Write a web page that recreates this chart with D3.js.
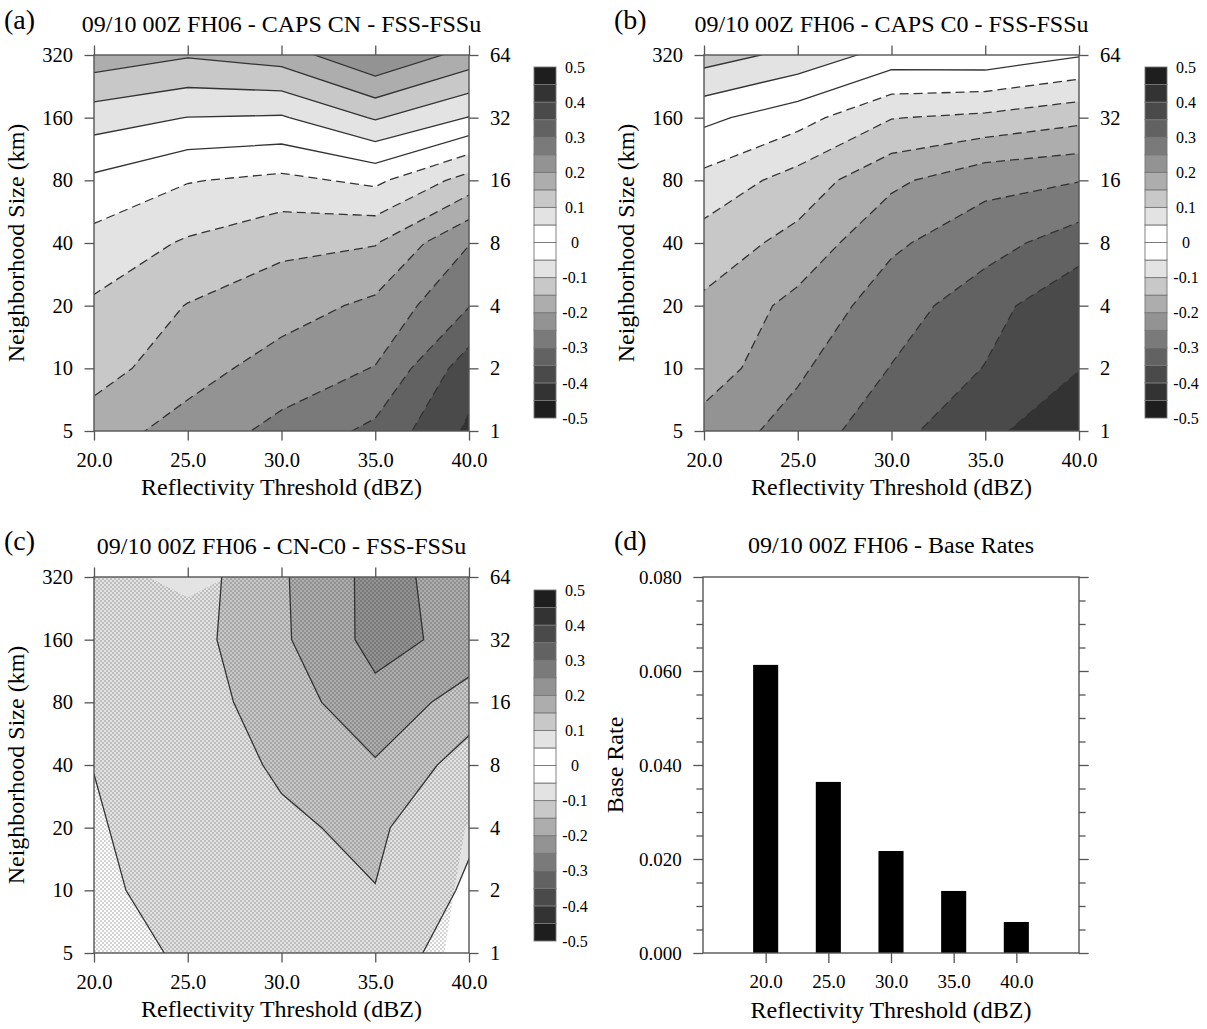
<!DOCTYPE html>
<html>
<head>
<meta charset="utf-8">
<script src="https://cdn.jsdelivr.net/npm/d3@7"></script>
<style>
  body { margin: 0; background: #fff; }
  svg { display: block; font-family: "Liberation Serif", "Times New Roman", serif; }
</style>
</head>
<body>
<svg id="fig" width="1207" height="1029"></svg>
<script>
// ---- data -------------------------------------------------------------
const thresholds = [20, 25, 30, 35, 40];          // reflectivity threshold (dBZ)
const sizesKm = [5, 10, 20, 40, 80, 160, 320];   // neighborhood size (km)
const gridPts = [1, 2, 4, 8, 16, 32, 64];        // neighborhood size (grid points)

// FSS - FSSu; each row is one neighborhood size (5 km first), columns are thresholds
const fssCN = [
  [-0.175, -0.221, -0.264, -0.312, -0.409],
  [-0.130, -0.179, -0.222, -0.252, -0.377],
  [-0.107, -0.152, -0.178, -0.211, -0.298],
  [-0.068, -0.106, -0.138, -0.147, -0.248],
  [-0.010, -0.047, -0.062, -0.039, -0.120],
  [ 0.073,  0.049,  0.045,  0.105,  0.048],
  [ 0.180,  0.155,  0.174,  0.248,  0.181]
];
const fssC0 = [
  [-0.222, -0.269, -0.335, -0.385, -0.445],
  [-0.172, -0.242, -0.302, -0.352, -0.398],
  [-0.159, -0.215, -0.275, -0.330, -0.391],
  [-0.122, -0.166, -0.242, -0.280, -0.326],
  [-0.065, -0.121, -0.189, -0.235, -0.248],
  [ 0.012, -0.030, -0.098, -0.111, -0.136],
  [ 0.123,  0.085,  0.030,  0.035,  0.004]
];
const fssDiff = [
  [0.020, 0.060, 0.075, 0.085, 0.016],
  [0.035, 0.079, 0.085, 0.099, 0.042],
  [0.044, 0.082, 0.094, 0.108, 0.058],
  [0.051, 0.080, 0.105, 0.145, 0.077],
  [0.060, 0.078, 0.123, 0.186, 0.126],
  [0.065, 0.081, 0.142, 0.216, 0.185],
  [0.070, 0.075, 0.144, 0.216, 0.179]
];
// significance score of the CN-C0 difference (stippled where >= 0.5)
const signifDiff = [
  [1, 1, 1, 1, 0.324],
  [1, 1, 1, 1, 0.405],
  [1, 1, 1, 1, 0.480],
  [1, 1, 1, 1, 1],
  [1, 1, 1, 1, 1],
  [1, 1.24, 1, 1, 1],
  [1, 0.14, 1, 1, 1]
];
const baseRates = [0.0613, 0.0364, 0.0217, 0.0132, 0.0066];

const levels = d3.range(21).map(i => +(-0.5 + i * 0.05).toFixed(2));
const cbarLabels = d3.range(11).map(i => +(-0.5 + i * 0.1).toFixed(1));
const grayRamp = ["#ffffff", "#e3e3e3", "#c8c8c8", "#adadad", "#939393",
                  "#7a7a7a", "#626262", "#4a4a4a", "#333333", "#1e1e1e"];

// ---- helpers ----------------------------------------------------------
const svg = d3.select("#fig");
const defs = svg.append("defs");
const FRAME = "#555";
const LINE = "#333";

const pat = defs.append("pattern").attr("id", "stipple")
  .attr("patternUnits", "userSpaceOnUse").attr("width", 4).attr("height", 4);
pat.append("rect").attr("x", 0).attr("y", 0).attr("width", 2).attr("height", 2)
  .attr("fill", "#000").attr("fill-opacity", 0.17);
pat.append("rect").attr("x", 2).attr("y", 2).attr("width", 2).attr("height", 2)
  .attr("fill", "#000").attr("fill-opacity", 0.17);

function bandColor(lo) {
  const k = Math.min(9, Math.floor(Math.abs(lo + 0.025) / 0.05 + 1e-9));
  return grayRamp[k];
}

function styleAxis(g, fontSize) {
  g.attr("font-family", null).attr("font-size", fontSize);
  g.select(".domain").remove();
  g.selectAll(".tick line").attr("stroke", FRAME).attr("stroke-width", 1.3);
  g.selectAll(".tick text").attr("fill", "#000");
}

function panelLetter(x, y, s) {
  svg.append("text").attr("x", x).attr("y", y).attr("font-size", 28).text(s);
}

function contourPanel(id, box, grid, letter, title, cb, signif) {
  const g = svg.append("g");
  const x = d3.scaleLinear().domain(d3.extent(thresholds)).range([box.l, box.r]);
  const y = d3.scaleLog().base(2).domain(d3.extent(sizesKm)).range([box.b, box.t]);
  const yR = d3.scaleLog().base(2).domain(d3.extent(gridPts)).range([box.b, box.t]);
  const nx = thresholds.length, ny = sizesKm.length;

  // contour grid coordinates (node i sits at i + 0.5) -> data space -> pixels
  const thrAt = d3.scaleLinear().domain([0.5, nx - 0.5]).range(d3.extent(thresholds));
  const sizeAt = gy => sizesKm[0] * Math.pow(2, gy - 0.5);
  const proj = d3.geoTransform({
    point(px, py) { this.stream.point(x(thrAt(px)), y(sizeAt(py))); }
  });
  const path = d3.geoPath(proj);

  defs.append("clipPath").attr("id", "clip-" + id)
    .append("rect").attr("x", box.l).attr("y", box.t)
    .attr("width", box.r - box.l).attr("height", box.b - box.t);

  const plot = g.append("g").attr("clip-path", `url(#clip-${id})`);
  const contours = d3.contours().size([nx, ny]).thresholds(levels)(grid.flat());

  plot.selectAll("path.fill").data(contours.filter(c => c.value < 0.5)).join("path")
    .attr("class", "fill")
    .attr("d", path)
    .attr("fill", d => bandColor(d.value))
    .attr("stroke", "none");

  if (signif) {
    const sig = d3.contours().size([nx, ny]).thresholds([0.5])(signif.flat());
    plot.selectAll("path.sig").data(sig).join("path")
      .attr("class", "sig").attr("d", path).attr("fill", "url(#stipple)");
  }

  plot.selectAll("path.iso").data(contours.filter(c => c.value > -0.5 && c.value < 0.5)).join("path")
    .attr("class", "iso")
    .attr("d", path)
    .attr("fill", "none")
    .attr("stroke", LINE)
    .attr("stroke-width", 1.3)
    .attr("stroke-dasharray", d => d.value < -1e-9 ? "9,5" : null);

  // frame
  g.append("rect").attr("x", box.l).attr("y", box.t)
    .attr("width", box.r - box.l).attr("height", box.b - box.t)
    .attr("fill", "none").attr("stroke", FRAME).attr("stroke-width", 1.4);

  // axes
  const fmt1 = d3.format(".1f");
  g.append("g").attr("transform", `translate(0,${box.b})`)
    .call(d3.axisBottom(x).tickValues(thresholds).tickFormat(fmt1).tickSize(9.5).tickPadding(12))
    .call(a => styleAxis(a, 20.5));
  g.append("g").attr("transform", `translate(0,${box.t})`)
    .call(d3.axisTop(x).tickValues(thresholds).tickFormat("").tickSize(9.5))
    .call(a => styleAxis(a, 20.5));
  g.append("g").attr("transform", `translate(${box.l},0)`)
    .call(d3.axisLeft(y).tickValues(sizesKm).tickFormat(d3.format("d")).tickSize(9.5).tickPadding(11.5))
    .call(a => styleAxis(a, 20.5));
  g.append("g").attr("transform", `translate(${box.r},0)`)
    .call(d3.axisRight(yR).tickValues(gridPts).tickFormat(d3.format("d")).tickSize(9.5).tickPadding(11.5))
    .call(a => styleAxis(a, 20.5));

  // titles
  const cx = (box.l + box.r) / 2;
  g.append("text").attr("x", cx).attr("y", box.t - 23.5).attr("text-anchor", "middle")
    .attr("font-size", 24).text(title);
  g.append("text").attr("x", cx).attr("y", box.b + 64).attr("text-anchor", "middle")
    .attr("font-size", 24).text("Reflectivity Threshold (dBZ)");
  g.append("text").attr("transform", `translate(${box.l - 70},${(box.t + box.b) / 2}) rotate(-90)`)
    .attr("text-anchor", "middle").attr("font-size", 24).text("Neighborhood Size (km)");

  // colour bar
  const cbs = d3.scaleLinear().domain([-0.5, 0.5]).range([cb.b, cb.t]);
  const bar = g.append("g");
  bar.selectAll("rect").data(levels.slice(0, -1)).join("rect")
    .attr("x", cb.l).attr("width", cb.w)
    .attr("y", d => cbs(d + 0.05)).attr("height", d => cbs(d) - cbs(d + 0.05))
    .attr("fill", d => bandColor(d))
    .attr("stroke", "#777").attr("stroke-width", 0.9);
  bar.selectAll("text").data(cbarLabels).join("text")
    .attr("x", cb.l + cb.w + 19).attr("y", d => cbs(d)).attr("dy", "0.35em")
    .attr("text-anchor", "middle").attr("font-size", 16)
    .text(d => d === 0 ? "0" : d.toFixed(1));

  panelLetter(letter.x, letter.y, letter.s);
}

// ---- panels (a)-(c) ----------------------------------------------------
contourPanel("a", { l: 94, r: 469, t: 55, b: 431 }, fssCN,
  { x: 4, y: 29, s: "(a)" }, "09/10 00Z FH06 - CAPS CN - FSS-FSSu",
  { l: 534, w: 22, t: 67, b: 418 });
contourPanel("b", { l: 704, r: 1079, t: 55, b: 431 }, fssC0,
  { x: 614, y: 29, s: "(b)" }, "09/10 00Z FH06 - CAPS C0 - FSS-FSSu",
  { l: 1145, w: 22, t: 67, b: 418 });
contourPanel("c", { l: 94, r: 469, t: 577, b: 953 }, fssDiff,
  { x: 4, y: 550, s: "(c)" }, "09/10 00Z FH06 - CN-C0 - FSS-FSSu",
  { l: 534, w: 22, t: 590, b: 941 }, signifDiff);

// ---- panel (d): base rates --------------------------------------------
(function () {
  const box = { l: 703, r: 1079, t: 577, b: 953 };
  const g = svg.append("g");
  const x = d3.scaleLinear().domain([15, 45]).range([box.l, box.r]);
  const y = d3.scaleLinear().domain([0, 0.08]).range([box.b, box.t]);

  g.selectAll("rect.bar").data(thresholds).join("rect")
    .attr("class", "bar")
    .attr("x", d => x(d - 1)).attr("width", d => x(d + 1) - x(d - 1))
    .attr("y", (d, i) => y(baseRates[i]))
    .attr("height", (d, i) => y(0) - y(baseRates[i]))
    .attr("fill", "#000");

  g.append("rect").attr("x", box.l).attr("y", box.t)
    .attr("width", box.r - box.l).attr("height", box.b - box.t)
    .attr("fill", "none").attr("stroke", FRAME).attr("stroke-width", 1.4);

  const major = d3.range(0, 0.0801, 0.02);
  const minor = d3.range(0, 0.0801, 0.005).filter(v => Math.abs(v / 0.02 - Math.round(v / 0.02)) > 1e-6);
  const fmt3 = d3.format(".3f");

  g.append("g").attr("transform", `translate(0,${box.b})`)
    .call(d3.axisBottom(x).tickValues(thresholds).tickFormat(d3.format(".1f")).tickSize(10).tickPadding(12))
    .call(a => styleAxis(a, 19));
  g.append("g").attr("transform", `translate(${box.l},0)`)
    .call(d3.axisLeft(y).tickValues(major).tickFormat(fmt3).tickSize(9.7).tickPadding(11.5))
    .call(a => styleAxis(a, 19));
  g.append("g").attr("transform", `translate(${box.l},0)`)
    .call(d3.axisLeft(y).tickValues(minor).tickFormat("").tickSize(6.6))
    .call(a => styleAxis(a, 19));
  g.append("g").attr("transform", `translate(${box.r},0)`)
    .call(d3.axisRight(y).tickValues(major).tickFormat("").tickSize(9.7))
    .call(a => styleAxis(a, 19));
  g.append("g").attr("transform", `translate(${box.r},0)`)
    .call(d3.axisRight(y).tickValues(minor).tickFormat("").tickSize(6.6))
    .call(a => styleAxis(a, 19));

  const cx = (box.l + box.r) / 2;
  g.append("text").attr("x", cx).attr("y", box.t - 24).attr("text-anchor", "middle")
    .attr("font-size", 24).text("09/10 00Z FH06 - Base Rates");
  g.append("text").attr("x", cx).attr("y", box.b + 65).attr("text-anchor", "middle")
    .attr("font-size", 24).text("Reflectivity Threshold (dBZ)");
  g.append("text").attr("transform", `translate(${box.l - 80},${(box.t + box.b) / 2}) rotate(-90)`)
    .attr("text-anchor", "middle").attr("font-size", 24).text("Base Rate");

  panelLetter(614, 550, "(d)");
})();
</script>
</body>
</html>
